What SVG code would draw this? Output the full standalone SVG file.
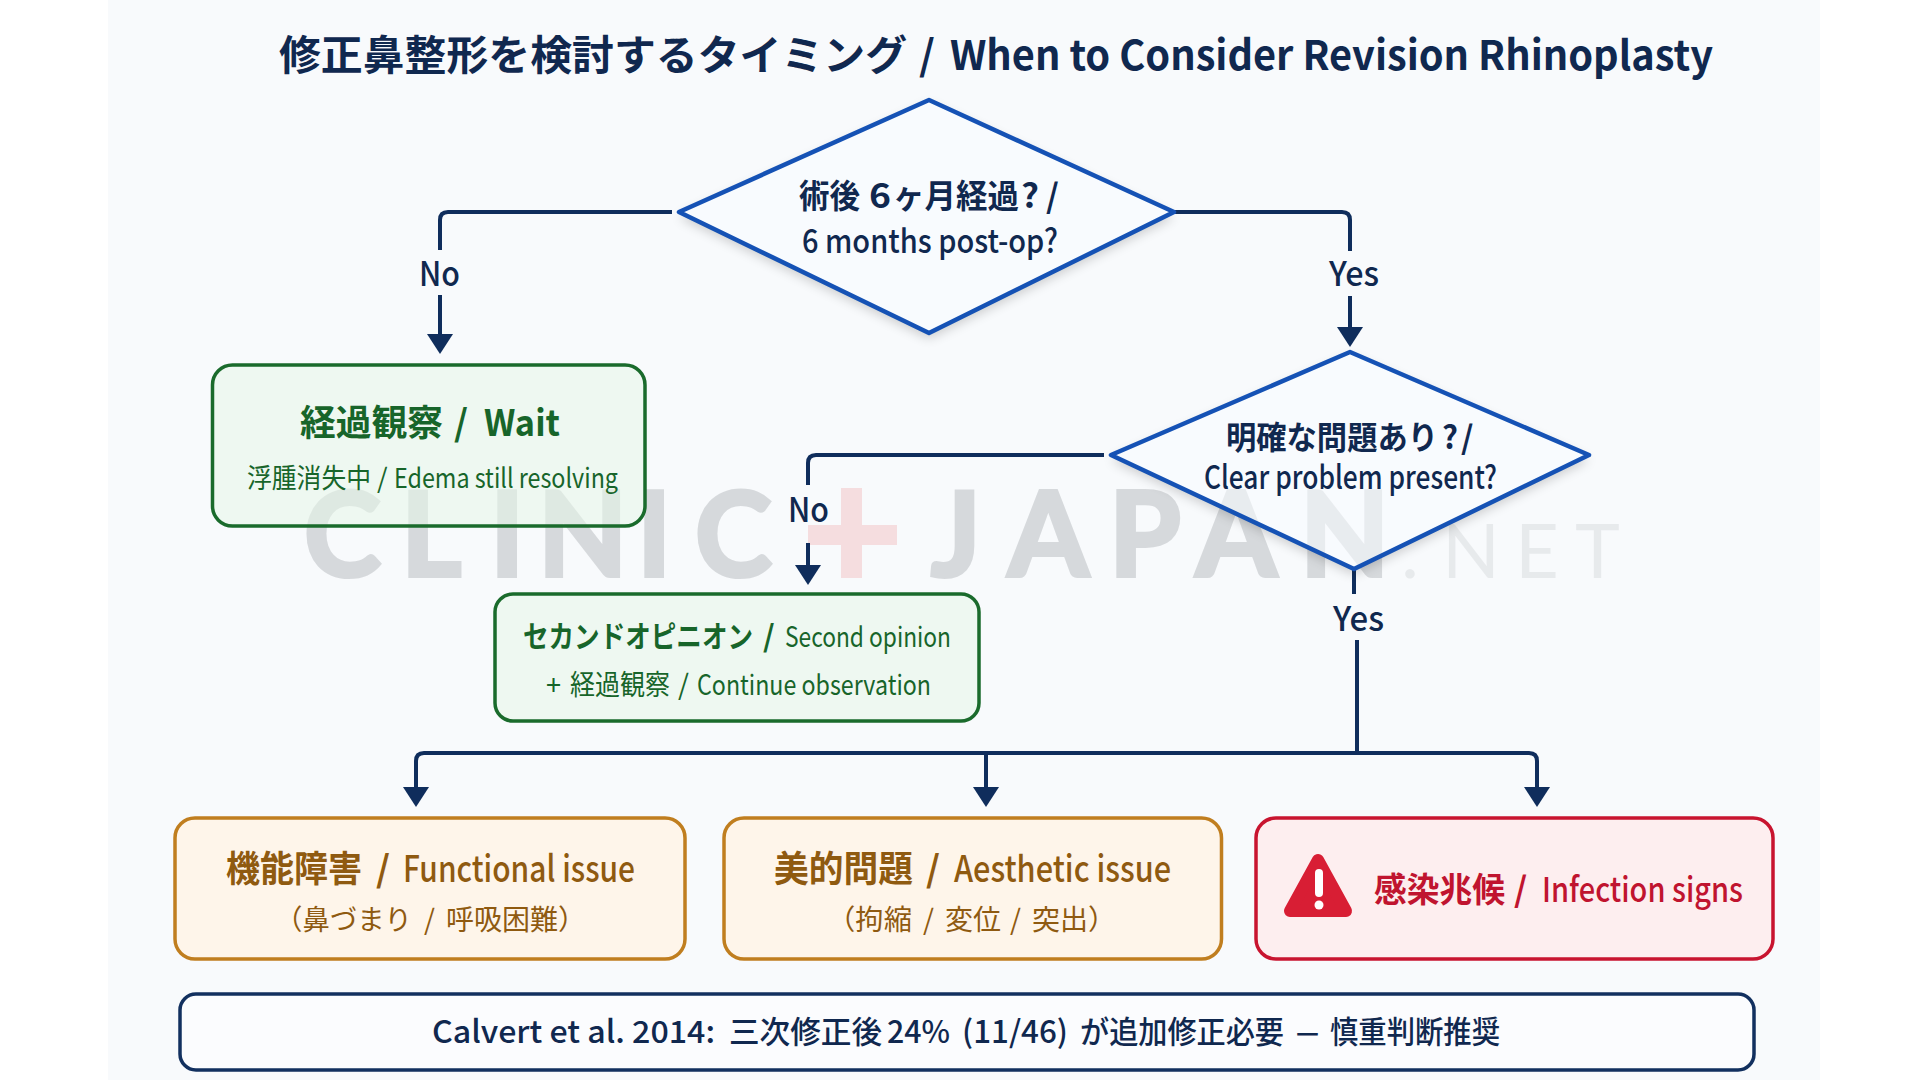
<svg xmlns="http://www.w3.org/2000/svg" width="1920" height="1080" viewBox="0 0 1920 1080">
<style>
text{font-family:"Noto Sans CJK JP","Noto Sans",sans-serif;font-weight:500}
.b{font-weight:700}
.r{font-weight:400}
.wm{font-family:Lato,"Liberation Sans",sans-serif;font-weight:700;font-size:116px;fill:#7f848a;stroke:#7f848a;stroke-width:4;opacity:.27}
.wn{font-family:Lato,"Liberation Sans",sans-serif;font-weight:400;font-size:76px;fill:#7f848a;opacity:.13}
.navy{fill:#10284f}
.lab{font-size:34px;fill:#10284f}
.green{fill:#17652a}
.amber{fill:#8f5a10}
.red{fill:#c0142f}
.dia{fill:#f8fbff;fill-opacity:.55;stroke:#1552b5;stroke-width:4.5;stroke-linejoin:round}
.sh{fill:#000;filter:url(#outerShadow)}
.gbox{fill:#e6f5e8;fill-opacity:.55;stroke:#1a6b2c;stroke-width:3.5}
.obox{fill:#fef5ea;stroke:#c07e1f;stroke-width:3.5}
.rbox{fill:#fdeeef;stroke:#c8142f;stroke-width:3.5}
.fbox{fill:#fbfcfe;stroke:#12305f;stroke-width:3.5}
.c{fill:none;stroke:#0f2d5c;stroke-width:4;stroke-linejoin:round}
.a{marker-end:url(#arrow)}
</style>
<defs>
<marker id="arrow" markerUnits="userSpaceOnUse" markerWidth="20" markerHeight="26" viewBox="0 0 20 26" refX="10" refY="13" orient="auto"><path d="M0 0L20 13L0 26z" fill="#0f2d5c"/></marker>
<filter id="outerShadow" x="-10%" y="-10%" width="120%" height="130%">
<feGaussianBlur in="SourceAlpha" stdDeviation="6" result="b"/>
<feOffset in="b" dx="0" dy="5" result="o"/>
<feComponentTransfer in="o" result="f"><feFuncA type="linear" slope=".2"/></feComponentTransfer>
<feComposite in="f" in2="SourceAlpha" operator="out"/>
</filter>
</defs>
<rect width="1920" height="1080" fill="#fff"/>
<rect x="108" y="0" width="1712" height="1080" fill="#f8fafc"/>
<g id="watermark">
<text class="wm" x="304 401 490 538 637 695" y="576">CLINIC</text>
<path d="M841 488h21v37h35v20h-35v33h-21v-33h-33v-20h33z" fill="#e23b3b" fill-opacity=".15"/>
<text class="wm" x="931 1008 1109 1196 1300" y="576">JAPAN</text>
<text class="wn" x="1401 1442 1515 1575" y="578">.NET</text>
</g>
<text id="title" y="70" font-size="41" class="b navy"><tspan x="279" textLength="628" lengthAdjust="spacingAndGlyphs">修正鼻整形を検討するタイミング</tspan> <tspan x="919">/</tspan> <tspan x="950" textLength="763" lengthAdjust="spacingAndGlyphs">When to Consider Revision Rhinoplasty</tspan></text>
<g id="connectors">
<path class="c" d="M672 212H448q-8 0-8 8V250"/>
<path class="c a" d="M440 295V344"/>
<path class="c" d="M1174 212H1342q8 0 8 8V251"/>
<path class="c a" d="M1350 296V337"/>
<path class="c" d="M1104 455H816q-8 0-8 8V485"/>
<path class="c a" d="M808 543V575"/>
<path class="c" d="M1354 569V594"/>
<path class="c" d="M1357 640V753"/>
<path class="c a" d="M1357 753H424q-8 0-8 8V797"/>
<path class="c a" d="M986 753V797"/>
<path class="c a" d="M1357 753H1529q8 0 8 8V797"/>
</g>
<g id="node-q1">
<polygon class="sh" points="929,100 1174,212 929,333 679,212"/>
<polygon class="dia" points="929,100 1174,212 929,333 679,212"/>
<text y="208" font-size="33" class="b navy"><tspan x="799" textLength="61" lengthAdjust="spacingAndGlyphs">術後</tspan><tspan x="869" textLength="22" lengthAdjust="spacingAndGlyphs">6</tspan><tspan x="893" textLength="126" lengthAdjust="spacingAndGlyphs">ヶ月経過</tspan><tspan x="1021" textLength="18" lengthAdjust="spacingAndGlyphs">?</tspan> <tspan x="1046">/</tspan></text>
<text x="802" y="253" font-size="33" class="navy" textLength="256" lengthAdjust="spacingAndGlyphs">6 months post-op?</text>
</g>
<text class="lab" x="419" y="286" textLength="41" lengthAdjust="spacingAndGlyphs">No</text>
<text class="lab" x="1329" y="286" textLength="50" lengthAdjust="spacingAndGlyphs">Yes</text>
<g id="node-wait">
<rect class="gbox" x="212.500" y="365" width="432.500" height="161" rx="20"/>
<text y="436" font-size="36" class="b green"><tspan x="300" textLength="143" lengthAdjust="spacingAndGlyphs">経過観察</tspan> <tspan x="454">/</tspan> <tspan x="484" textLength="76" lengthAdjust="spacingAndGlyphs">Wait</tspan></text>
<text y="488" font-size="27" class="r green"><tspan x="247" textLength="124" lengthAdjust="spacingAndGlyphs">浮腫消失中</tspan> <tspan x="377">/</tspan> <tspan x="394" textLength="224" lengthAdjust="spacingAndGlyphs">Edema still resolving</tspan></text>
</g>
<g id="node-q2">
<polygon class="sh" points="1350,352 1589,455 1354,569 1111,455"/>
<polygon class="dia" points="1350,352 1589,455 1354,569 1111,455"/>
<text y="449" font-size="32" class="b navy"><tspan x="1226" textLength="212" lengthAdjust="spacingAndGlyphs">明確な問題あり</tspan><tspan x="1442" textLength="16" lengthAdjust="spacingAndGlyphs">?</tspan> <tspan x="1461">/</tspan></text>
<text x="1204" y="489" font-size="32" class="navy" textLength="293" lengthAdjust="spacingAndGlyphs">Clear problem present?</text>
</g>
<text class="lab" x="788" y="522" textLength="41" lengthAdjust="spacingAndGlyphs">No</text>
<text class="lab" x="1333" y="631" textLength="51" lengthAdjust="spacingAndGlyphs">Yes</text>
<g id="node-second">
<rect class="gbox" x="495" y="594" width="484" height="127" rx="18"/>
<text y="647" font-size="30" class="b green"><tspan x="523" textLength="230" lengthAdjust="spacingAndGlyphs">セカンドオピニオン</tspan> <tspan x="763">/</tspan> <tspan x="785" textLength="166" lengthAdjust="spacingAndGlyphs" class="r" font-size="28">Second opinion</tspan></text>
<text y="695" font-size="28" class="r green"><tspan x="546" textLength="15" lengthAdjust="spacingAndGlyphs">+</tspan> <tspan x="570" textLength="100" lengthAdjust="spacingAndGlyphs">経過観察</tspan> <tspan x="678">/</tspan> <tspan x="697" textLength="234" lengthAdjust="spacingAndGlyphs">Continue observation</tspan></text>
</g>
<g id="node-functional">
<rect class="obox" x="175" y="818" width="510" height="141" rx="20"/>
<text y="882" font-size="36" class="b amber"><tspan x="226" textLength="136" lengthAdjust="spacingAndGlyphs">機能障害</tspan> <tspan x="376">/</tspan> <tspan x="403" textLength="232" lengthAdjust="spacingAndGlyphs" style="font-weight:500">Functional issue</tspan></text>
<text y="930" font-size="28" class="r amber"><tspan x="275" textLength="137" lengthAdjust="spacingAndGlyphs">（鼻づまり</tspan> <tspan x="424">/</tspan> <tspan x="446" textLength="140" lengthAdjust="spacingAndGlyphs">呼吸困難）</tspan></text>
</g>
<g id="node-aesthetic">
<rect class="obox" x="724" y="818" width="497.500" height="141" rx="20"/>
<text y="882" font-size="36" class="b amber"><tspan x="774" textLength="139" lengthAdjust="spacingAndGlyphs">美的問題</tspan> <tspan x="926">/</tspan> <tspan x="954" textLength="217" lengthAdjust="spacingAndGlyphs" style="font-weight:500">Aesthetic issue</tspan></text>
<text y="930" font-size="28" class="r amber"><tspan x="827" textLength="85" lengthAdjust="spacingAndGlyphs">（拘縮</tspan> <tspan x="923">/</tspan> <tspan x="945" textLength="56" lengthAdjust="spacingAndGlyphs">変位</tspan> <tspan x="1010">/</tspan> <tspan x="1032" textLength="84" lengthAdjust="spacingAndGlyphs">突出）</tspan></text>
</g>
<g id="node-infection">
<rect class="rbox" x="1256" y="818" width="517" height="141" rx="20"/>
<polygon points="1318,860 1346,911 1290,911" fill="#d81e34" stroke="#d81e34" stroke-width="12" stroke-linejoin="round"/>
<rect x="1315" y="869" width="8" height="28" rx="4" fill="#fff"/>
<circle cx="1319" cy="905" r="4.500" fill="#fff"/>
<text y="902" font-size="34" class="b red"><tspan x="1374" textLength="131" lengthAdjust="spacingAndGlyphs">感染兆候</tspan> <tspan x="1514">/</tspan> <tspan x="1542" textLength="201" lengthAdjust="spacingAndGlyphs" style="font-weight:500">Infection signs</tspan></text>
</g>
<g id="node-footer">
<rect class="fbox" x="180" y="994" width="1574" height="76" rx="16"/>
<text y="1043" font-size="31" class="navy"><tspan x="432" textLength="283" lengthAdjust="spacingAndGlyphs">Calvert et al. 2014:</tspan> <tspan x="729" textLength="153" lengthAdjust="spacingAndGlyphs">三次修正後</tspan> <tspan x="887" textLength="63" lengthAdjust="spacingAndGlyphs">24%</tspan> <tspan x="962" textLength="106" lengthAdjust="spacingAndGlyphs">(11/46)</tspan> <tspan x="1080" textLength="204" lengthAdjust="spacingAndGlyphs">が追加修正必要</tspan> <tspan x="1296" textLength="23" lengthAdjust="spacingAndGlyphs">—</tspan> <tspan x="1330" textLength="170" lengthAdjust="spacingAndGlyphs">慎重判断推奨</tspan></text>
</g>
</svg>
